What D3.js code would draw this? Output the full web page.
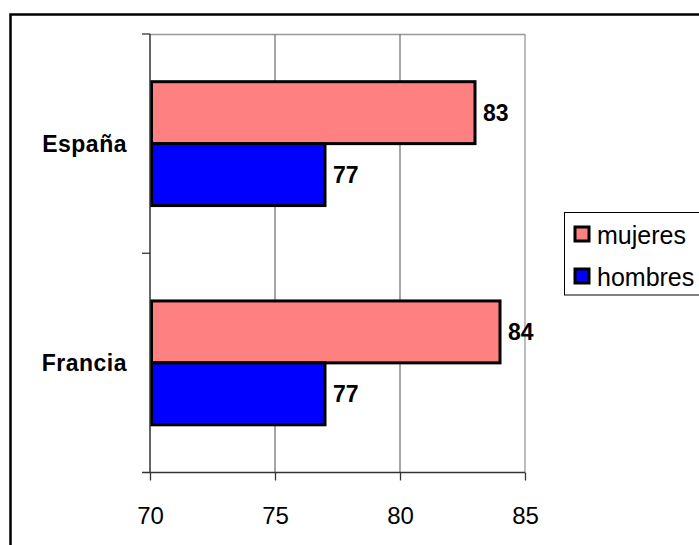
<!DOCTYPE html>
<html><head><meta charset="utf-8">
<script src="https://cdn.jsdelivr.net/npm/d3@7"></script>
<style>body{margin:0;background:#fff;} svg{display:block;font-family:"Liberation Sans",Arial,sans-serif;}</style>
</head><body>
<script>
const categories = ["España", "Francia"];
const seriesNames = ["mujeres", "hombres"];
const mujeres = [83, 84];
const hombres = [77, 77];
const xTicks = [70, 75, 80, 85];
const colors = {mujeres: "#FF8080", hombres: "#0000FF"};

const W = 699, H = 545;
const svg = d3.select("body").append("svg").attr("width", W).attr("height", H);

// outer border
svg.append("rect").attr("x", 10.5).attr("y", 14.5).attr("width", 700).attr("height", 540)
  .attr("fill", "none").attr("stroke", "#000").attr("stroke-width", 2.5);

const plot = {left: 150, right: 525, top: 34, bottom: 472.5};
const x = d3.scaleLinear().domain([70, 85]).range([plot.left, plot.right]);
const y = d3.scaleBand().domain(categories).range([plot.top, plot.bottom]).padding(0);
const ySub = d3.scaleBand().domain(seriesNames).range([0, y.bandwidth()]).paddingInner(0).paddingOuter(0.77);

// plot border (top gray)
svg.append("line").attr("x1", plot.left).attr("x2", plot.right).attr("y1", plot.top + 0.5).attr("y2", plot.top + 0.5)
  .attr("stroke", "#999").attr("stroke-width", 1.5);

// gridlines
svg.append("g").selectAll("line").data(xTicks.slice(1)).join("line")
  .attr("x1", d => x(d)).attr("x2", d => x(d)).attr("y1", plot.top).attr("y2", plot.bottom)
  .attr("stroke", d => d === 85 ? "#999" : "#777").attr("stroke-width", 1.3);

// bars
const data = [];
categories.forEach((c, i) => {
  data.push({cat: c, s: "mujeres", v: mujeres[i]});
  data.push({cat: c, s: "hombres", v: hombres[i]});
});
svg.append("g").selectAll("rect").data(data).join("rect")
  .attr("x", x(70) + 1.5).attr("y", d => y(d.cat) + ySub(d.s))
  .attr("width", d => x(d.v) - x(70) - 1.5).attr("height", ySub.bandwidth())
  .attr("fill", d => colors[d.s]).attr("stroke", "#000").attr("stroke-width", 3);

// value labels
svg.append("g").selectAll("text").data(data).join("text")
  .attr("x", d => x(d.v) + 8).attr("y", d => y(d.cat) + ySub(d.s) + ySub.bandwidth() / 2)
  .attr("dy", "0.36em").attr("font-size", 23).attr("font-weight", "bold").text(d => d.v);

// x axis
const xAxis = svg.append("g").attr("transform", `translate(0,${plot.bottom})`)
  .call(d3.axisBottom(x).tickValues(xTicks).tickSize(8).tickSizeOuter(0).tickPadding(26));
xAxis.select(".domain").remove();
xAxis.append("line").attr("x1", plot.left - 8).attr("x2", plot.right).attr("y1", 0).attr("y2", 0)
  .attr("stroke", "#333").attr("stroke-width", 1.5);
xAxis.selectAll(".tick line").attr("stroke", "#333").attr("stroke-width", 1.3);
xAxis.selectAll(".tick text").attr("font-size", 24).attr("fill", "#000").attr("font-family", "Liberation Sans, Arial, sans-serif");

// y axis line and ticks at band boundaries
svg.append("line").attr("x1", plot.left).attr("x2", plot.left).attr("y1", plot.top).attr("y2", plot.bottom)
  .attr("stroke", "#333").attr("stroke-width", 1.5);
const bounds = [plot.top, y(categories[1])];
svg.append("g").selectAll("line").data(bounds).join("line")
  .attr("x1", plot.left - 8).attr("x2", plot.left).attr("y1", d => d).attr("y2", d => d)
  .attr("stroke", "#333").attr("stroke-width", 1.3);

// category labels
svg.append("g").selectAll("text").data(categories).join("text")
  .attr("x", 127).attr("y", d => y(d) + y.bandwidth() / 2)
  .attr("dy", "0.36em").attr("text-anchor", "end")
  .attr("font-size", 23).attr("font-weight", "bold").attr("letter-spacing", 0.5).text(d => d);

// legend
const lg = svg.append("g");
lg.append("rect").attr("x", 564.5).attr("y", 212.5).attr("width", 140).attr("height", 82.5)
  .attr("fill", "#fff").attr("stroke", "#000").attr("stroke-width", 1);
seriesNames.forEach((s, i) => {
  const yy = 227 + i * 42;
  lg.append("rect").attr("x", 575).attr("y", yy).attr("width", 14).attr("height", 14)
    .attr("fill", colors[s]).attr("stroke", "#000").attr("stroke-width", 3);
  lg.append("text").attr("x", 597).attr("y", yy + 17).attr("font-size", 25).text(s);
});
</script>
</body></html>
